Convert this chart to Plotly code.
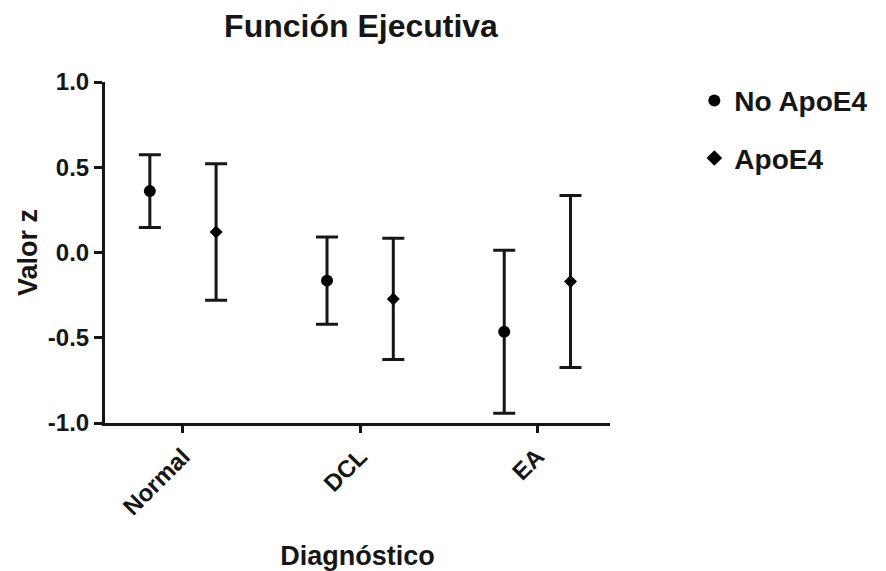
import plotly.graph_objects as go

# Diagnostic groups and executive-function z-scores (mean ± error)
categories = ["Normal", "DCL", "EA"]
no_apoe4_mean = [0.36, -0.165, -0.465]
no_apoe4_err = [0.213, 0.256, 0.478]
apoe4_mean = [0.12, -0.272, -0.17]
apoe4_err = [0.40, 0.355, 0.505]

FONT = "Liberation Sans, Arial, sans-serif"
INK = "#161616"
offset = 0.187
idx = list(range(len(categories)))

fig = go.Figure()
fig.add_trace(go.Scatter(
    x=[i - offset for i in idx], y=no_apoe4_mean, mode="markers",
    name="No ApoE4", legendgroup="a",
    marker=dict(symbol="circle", size=12, color="black"),
    error_y=dict(type="data", array=no_apoe4_err, visible=True,
                 color=INK, thickness=3, width=11),
))
fig.add_trace(go.Scatter(
    x=[i + offset for i in idx], y=apoe4_mean, mode="markers",
    name="ApoE4", legendgroup="b",
    marker=dict(symbol="diamond", size=10, color="black"),
    error_y=dict(type="data", array=apoe4_err, visible=True,
                 color=INK, thickness=3, width=11),
))

tick_font = dict(family=FONT, size=24, color=INK, weight="bold")
title_font = dict(family=FONT, size=27, color=INK, weight="bold")

fig.update_layout(
    width=886, height=571,
    margin=dict(l=105, r=276, t=82, b=148),
    paper_bgcolor="white", plot_bgcolor="white",
    title=dict(text="Función Ejecutiva", x=361 / 886, xanchor="center",
               xref="container", yref="container",
               y=1 - 26 / 571, yanchor="middle",
               font=dict(family=FONT, size=32, color=INK, weight="bold")),
    showlegend=True,
    legend=dict(x=1.167, y=1.018, xanchor="left", yanchor="top",
                font=dict(family=FONT, size=28, color=INK, weight="bold"),
                traceorder="grouped", tracegroupgap=18, itemsizing="constant",
                bgcolor="rgba(0,0,0,0)"),
    xaxis=dict(
        range=[-0.44, 2.41], tickmode="array", tickvals=idx, ticktext=categories,
        tickangle=-45, ticks="outside", ticklen=7, tickwidth=3, tickcolor=INK,
        showline=True, linewidth=3, linecolor=INK, showgrid=False,
        zeroline=False, tickfont=tick_font, automargin=False,
        title=dict(text="Diagnóstico", font=title_font, standoff=27),
    ),
    yaxis=dict(
        range=[-1.0, 1.0], tickvals=[-1.0, -0.5, 0.0, 0.5, 1.0],
        ticktext=["-1.0", "-0.5", "0.0", "0.5", "1.0"],
        ticks="outside", ticklen=8, tickwidth=3, tickcolor=INK,
        showline=True, linewidth=3, linecolor=INK, showgrid=False,
        zeroline=False, tickfont=tick_font, automargin=False,
        title=dict(text="Valor z", font=title_font, standoff=3),
    ),
)

fig.write_html("out.html")
